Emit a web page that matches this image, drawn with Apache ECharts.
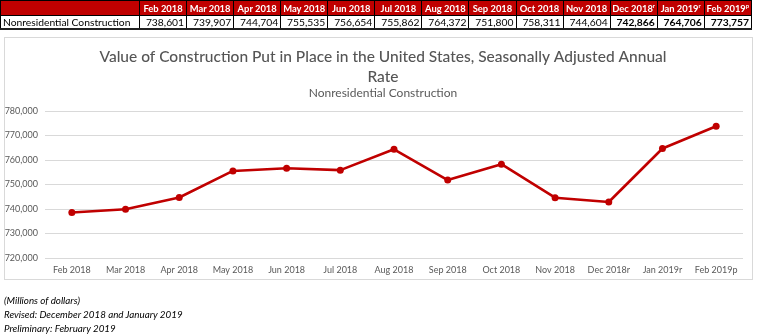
<!DOCTYPE html>
<html>
<head>
<meta charset="utf-8">
<script src="https://cdn.jsdelivr.net/npm/echarts@6/dist/echarts.min.js"></script>
<style>
  html, body { margin: 0; padding: 0; background: #fff; }
  body { width: 760px; height: 336px; position: relative; overflow: hidden; font-family: Lato, "Noto Sans", sans-serif; }
  #chart { position: absolute; left: 0; top: 0; width: 760px; height: 336px; }
  #box { position: absolute; left: 4px; top: 37px; width: 749px; height: 243px; border: 1px solid #D9D9D9; box-sizing: border-box; }
  #tbl { position: absolute; left: 0; top: 0; width: 752px; border-collapse: collapse; table-layout: fixed; font-size: 10.3px; }
  #tbl td { border: 1px solid #000; padding: 0 2px; white-space: nowrap; overflow: hidden; }
  #tbl tr.h td { background: #C00000; color: #fff; font-weight: bold; text-align: center; height: 14px; line-height: 13px; padding: 0; font-size: 9.4px; }
  #tbl tr.d td { text-align: right; color: #000; height: 12px; line-height: 12px; border-bottom: 2px solid #222; }
  #tbl tr.d td.name { text-align: left; }
  #tbl sup { font-size: 6px; line-height: 0; vertical-align: 4px; }
  #notes { position: absolute; left: 4px; top: 293px; font-style: italic; font-size: 9.8px; line-height: 14px; color: #000; }
</style>
</head>
<body>
<div id="box"></div>
<div id="chart"></div>
<table id="tbl"></table>
<div id="notes">(Millions of dollars)<br>Revised: December 2018 and January 2019<br>Preliminary: February 2019</div>
<script>
const months = ['Feb 2018','Mar 2018','Apr 2018','May 2018','Jun 2018','Jul 2018','Aug 2018','Sep 2018','Oct 2018','Nov 2018','Dec 2018','Jan 2019','Feb 2019'];
const marks = ['','','','','','','','','','','r','r','p'];
const values = [738601, 739907, 744704, 755535, 756654, 755862, 764372, 751800, 758311, 744604, 742866, 764706, 773757];
const boldFlags = [false,false,false,false,false,false,false,false,false,false,true,true,true];
const rowName = 'Nonresidential Construction';
const yTicks = [720000, 730000, 740000, 750000, 760000, 770000, 780000];
const categories = months.map((m, i) => m + marks[i]);

// table
const tbl = document.getElementById('tbl');
let colg = '<colgroup><col style="width:139px">' + months.map(() => '<col>').join('') + '</colgroup>';
let h = '<tr class="h"><td></td>' + months.map((m, i) => '<td>' + m + (marks[i] ? '<sup>' + marks[i] + '</sup>' : '') + '</td>').join('') + '</tr>';
let d = '<tr class="d"><td class="name">' + rowName + '</td>' + values.map((v, i) => '<td' + (boldFlags[i] ? ' style="font-weight:bold"' : '') + '>' + v.toLocaleString('en-US') + '</td>').join('') + '</tr>';
tbl.innerHTML = colg + h + d;

const chart = echarts.init(document.getElementById('chart'), null, { renderer: 'canvas' });
chart.setOption({
  animation: false,
  title: [{
    text: 'Value of Construction Put in Place in the United States, Seasonally Adjusted Annual\nRate',
    left: 378, top: 42, textAlign: 'center',
    textStyle: { fontFamily: 'Lato', fontSize: 15.5, fontWeight: 500, color: '#555555', lineHeight: 20, align: 'center' }
  }, {
    text: 'Nonresidential Construction',
    left: 378, top: 82, textAlign: 'center',
    textStyle: { fontFamily: 'Lato', fontSize: 12, fontWeight: 'normal', color: '#595959' }
  }],
  grid: { left: 45, right: 17, top: 111, bottom: 78, containLabel: false },
  xAxis: {
    type: 'category', data: categories, boundaryGap: true,
    axisLine: { show: false }, axisTick: { show: false },
    axisLabel: { color: '#595959', fontSize: 9, fontFamily: 'Lato', margin: 8, interval: 0 }
  },
  yAxis: {
    type: 'value', min: yTicks[0], max: yTicks[yTicks.length - 1], interval: 10000,
    axisLine: { show: false }, axisTick: { show: false },
    splitLine: { lineStyle: { color: '#D9D9D9', width: 1 } },
    axisLabel: { color: '#595959', fontSize: 9, fontFamily: 'Lato', margin: 7, formatter: v => v.toLocaleString('en-US') }
  },
  series: [{
    type: 'line', data: values,
    lineStyle: { color: '#C00000', width: 2.6 },
    itemStyle: { color: '#C00000' },
    symbol: 'circle', symbolSize: 7
  }]
});
</script>
</body>
</html>
